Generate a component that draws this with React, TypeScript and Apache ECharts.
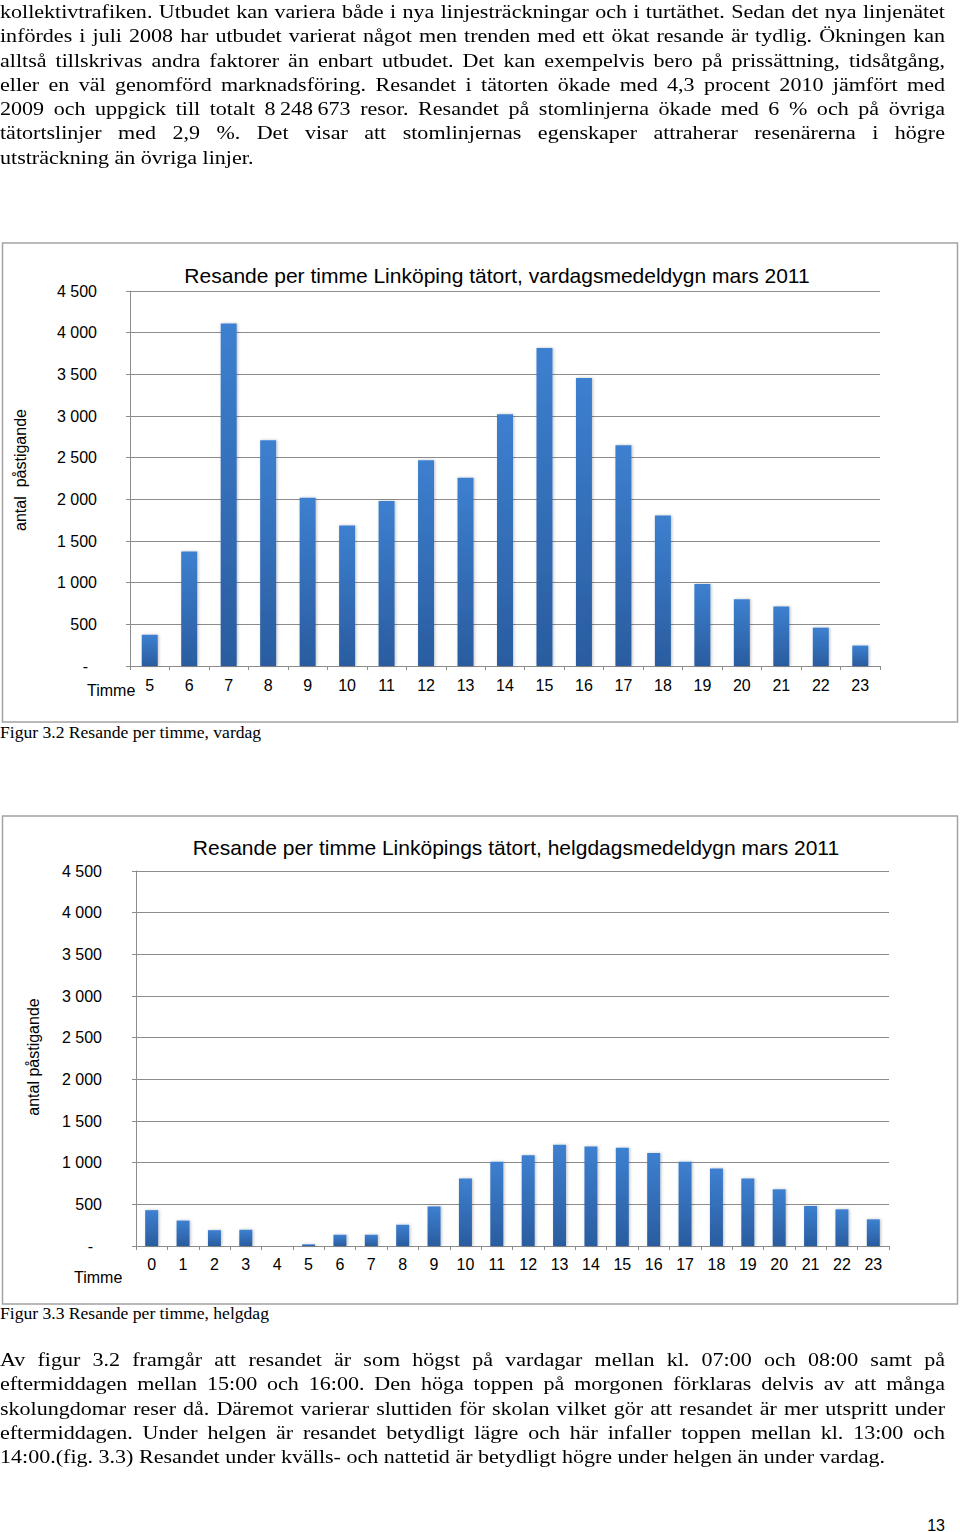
import React, { useEffect, useRef } from 'react';
import * as echarts from 'echarts';

// ---------- Data ----------
const weekdayHours = ['5','6','7','8','9','10','11','12','13','14','15','16','17','18','19','20','21','22','23'];
const weekdayValues = [375, 1375, 4110, 2710, 2020, 1685, 1980, 2470, 2260, 3020, 3815, 3455, 2650, 1805, 985, 800, 715, 460, 245];

const weekendHours = ['0','1','2','3','4','5','6','7','8','9','10','11','12','13','14','15','16','17','18','19','20','21','22','23'];
const weekendValues = [430, 305, 190, 195, 0, 20, 135, 135, 255, 475, 810, 1010, 1090, 1215, 1195, 1180, 1115, 1010, 930, 810, 680, 480, 440, 320];

const yTicks = { min: 0, max: 4500, interval: 500 };

const title1 = 'Resande per timme Linköping tätort, vardagsmedeldygn mars 2011';
const title2 = 'Resande per timme Linköpings tätort, helgdagsmedeldygn mars 2011';
const caption1 = 'Figur 3.2 Resande per timme, vardag';
const caption2 = 'Figur 3.3 Resande per timme, helgdag';
const yName1 = 'antal  påstigande';
const yName2 = 'antal påstigande';
const xName = 'Timme';

const topLines = [
  'kollektivtrafiken. Utbudet kan variera både i nya linjesträckningar och i turtäthet. Sedan det nya linjenätet',
  'infördes i juli 2008 har utbudet varierat något men trenden med ett ökat resande är tydlig. Ökningen kan',
  'alltså tillskrivas andra faktorer än enbart utbudet. Det kan exempelvis bero på prissättning, tidsåtgång,',
  'eller en väl genomförd marknadsföring. Resandet i tätorten ökade med 4,3 procent 2010 jämfört med',
  '2009 och uppgick till totalt 8\u202F248\u202F673 resor. Resandet på stomlinjerna ökade med 6 % och på övriga',
  'tätortslinjer med 2,9 %. Det visar att stomlinjernas egenskaper attraherar resenärerna i högre',
  'utsträckning än övriga linjer.',
];

const bottomLines = [
  'Av figur 3.2 framgår att resandet är som högst på vardagar mellan kl. 07:00 och 08:00 samt på',
  'eftermiddagen mellan 15:00 och 16:00. Den höga toppen på morgonen förklaras delvis av att många',
  'skolungdomar reser då. Däremot varierar sluttiden för skolan vilket gör att resandet är mer utspritt under',
  'eftermiddagen. Under helgen är resandet betydligt lägre och här infaller toppen mellan kl. 13:00 och',
  '14:00.(fig. 3.3) Resandet under kvälls- och nattetid är betydligt högre under helgen än under vardag.',
];

const pageNumber = '13';

// ---------- Styles ----------
const GRID_COLOR = '#8c8c8c';
const FRAME_COLOR = '#a3a3a3';
const SANS = "'Liberation Sans', Arial, sans-serif";
const SERIF = "'Liberation Serif', 'Times New Roman', serif";
const TEXT_SCALE = 1.16;

const fmtY = (v: number) =>
  v === 0 ? '{d|-}' : String(v).replace(/\B(?=(\d{3})+(?!\d))/g, ' ');

const barGradient = () =>
  new echarts.graphic.LinearGradient(0, 0, 0, 1, [
    { offset: 0, color: '#3d80d0' },
    { offset: 1, color: '#2a5c9f' },
  ]);

function yAxisCfg(gridIndex: number, margin: number) {
  return {
    gridIndex,
    type: 'value',
    min: yTicks.min,
    max: yTicks.max,
    interval: yTicks.interval,
    axisLine: { show: true, lineStyle: { color: GRID_COLOR, width: 1 } },
    axisTick: { show: true, length: 4, lineStyle: { color: GRID_COLOR } },
    splitLine: { show: true, lineStyle: { color: GRID_COLOR, width: 1 } },
    axisLabel: {
      margin,
      fontSize: 16,
      color: '#000',
      fontFamily: SANS,
      formatter: fmtY,
      rich: { d: { padding: [0, 9, 0, 0], fontSize: 16, color: '#000', fontFamily: SANS } },
    },
  };
}

function xAxisCfg(gridIndex: number, data: string[], margin: number) {
  return {
    gridIndex,
    type: 'category',
    data,
    boundaryGap: true,
    axisLine: { show: true, lineStyle: { color: GRID_COLOR, width: 1 } },
    axisTick: { show: true, length: 4, alignWithLabel: false, lineStyle: { color: GRID_COLOR } },
    axisLabel: { interval: 0, margin, fontSize: 16, color: '#000', fontFamily: SANS },
    splitLine: { show: false },
  };
}

function txt(x: number, y: number, text: string, size: number, family: string, align = 'left', rotation = 0, scaleX = 1) {
  return {
    type: 'text',
    x,
    y,
    rotation,
    scaleX,
    style: { text, fill: '#000', fontSize: size, fontFamily: family, align, verticalAlign: 'middle' },
  };
}

function ChartLayer() {
  const ref = useRef<HTMLDivElement>(null);
  useEffect(() => {
    if (!ref.current) return;
    const chart = echarts.init(ref.current, undefined, { renderer: 'svg' });
    chart.setOption({
      animation: false,
      grid: [
        { left: 130, top: 291, width: 750, height: 375 },
        { left: 136, top: 871, width: 753, height: 375 },
      ],
      xAxis: [xAxisCfg(0, weekdayHours, 11), xAxisCfg(1, weekendHours, 10)],
      yAxis: [yAxisCfg(0, 33), yAxisCfg(1, 34)],
      series: [
        {
          type: 'bar',
          xAxisIndex: 0,
          yAxisIndex: 0,
          data: weekdayValues,
          barWidth: 16,
          itemStyle: { color: barGradient(), shadowBlur: 3, shadowColor: 'rgba(0,0,0,0.25)', shadowOffsetX: 1 },
        },
        {
          type: 'bar',
          xAxisIndex: 1,
          yAxisIndex: 1,
          data: weekendValues,
          barWidth: 13,
          itemStyle: { color: barGradient(), shadowBlur: 3, shadowColor: 'rgba(0,0,0,0.25)', shadowOffsetX: 1 },
        },
      ],
      graphic: [
        { type: 'rect', z: -1, shape: { x: 2.5, y: 243, width: 955, height: 479 }, style: { fill: 'none', stroke: FRAME_COLOR, lineWidth: 1.5 } },
        { type: 'rect', z: -1, shape: { x: 2.5, y: 816, width: 955, height: 488 }, style: { fill: 'none', stroke: FRAME_COLOR, lineWidth: 1.5 } },
        txt(497, 275, title1, 21, SANS, 'center'),
        txt(516, 847, title2, 21, SANS, 'center'),
        txt(87, 690, xName, 16, SANS, 'left'),
        txt(74, 1277, xName, 16, SANS, 'left'),
        txt(20, 470, yName1, 16, SANS, 'center', Math.PI / 2),
        txt(33, 1057, yName2, 16, SANS, 'center', Math.PI / 2),
        txt(0, 733, caption1, 16, SERIF, 'left', 0, 1.1),
        txt(0, 1314, caption2, 16, SERIF, 'left', 0, 1.1),
        txt(945, 1525, pageNumber, 16, SANS, 'right'),
      ],
    });
    return () => chart.dispose();
  }, []);
  return <div ref={ref} style={{ position: 'absolute', left: 0, top: 0, width: 960, height: 1532 }} />;
}

function Paragraph({ lines, top }: { lines: string[]; top: number }) {
  return (
    <div
      style={{
        position: 'absolute',
        left: 0,
        top,
        width: 945 / TEXT_SCALE,
        transform: `scaleX(${TEXT_SCALE})`,
        transformOrigin: '0 0',
        fontFamily: SERIF,
        fontSize: 19,
        lineHeight: '24.3px',
        color: '#000',
      }}
    >
      {lines.map((l, i) => {
        const last = i === lines.length - 1;
        return (
          <div
            key={i}
            style={{
              textAlign: last ? 'left' : 'justify',
              textAlignLast: last ? 'left' : 'justify',
              height: '24.3px',
            } as React.CSSProperties}
          >
            {l}
          </div>
        );
      })}
    </div>
  );
}

export default function App() {
  useEffect(() => {
    document.body.style.margin = '0';
  }, []);
  return (
    <div style={{ position: 'relative', width: 960, height: 1532, background: '#fff', overflow: 'hidden' }}>
      <ChartLayer />
      <Paragraph lines={topLines} top={0} />
      <Paragraph lines={bottomLines} top={1348} />
    </div>
  );
}
